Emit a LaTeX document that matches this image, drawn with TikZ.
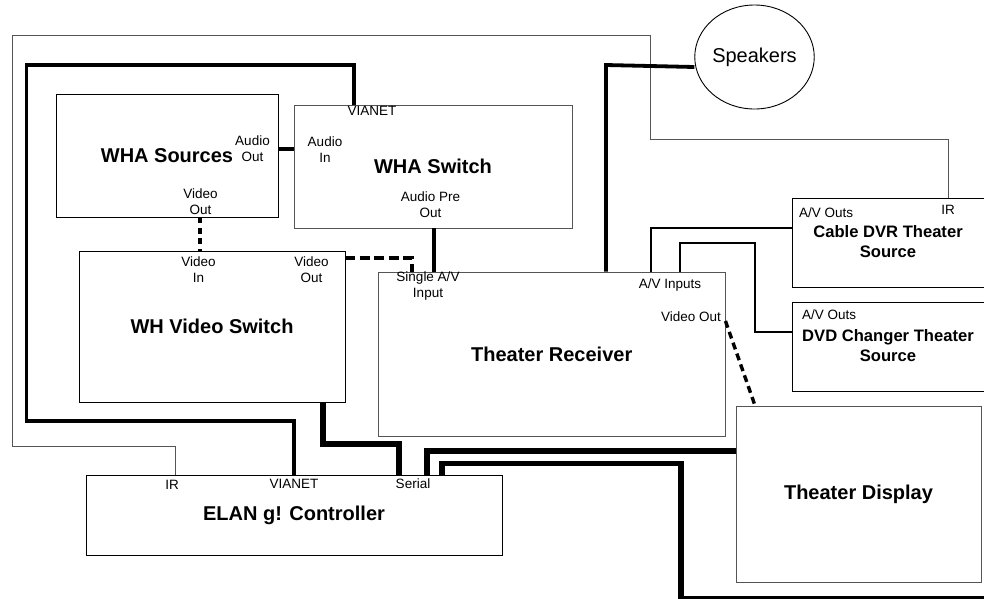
\documentclass[tikz,border=0pt]{standalone}
\usepackage{fontspec}
\setmainfont{Liberation Sans}
\setsansfont{Liberation Sans}
\usepackage{tikz}
\usetikzlibrary{shapes.geometric}
\definecolor{boxGray}{HTML}{555555}
\begin{document}
\begin{tikzpicture}[x=1pt,y=-1pt,font=\sffamily,
  unit/.style={draw=#1,line width=0.9pt,inner sep=0pt,align=center,font=\sffamily\bfseries\fontsize{20}{20}\selectfont},
  title/.style={inner sep=0pt,align=center,font=\sffamily\bfseries\fontsize{16.6}{20}\selectfont},
  port/.style={inner sep=0pt,align=center,yshift=-1pt,font=\sffamily\fontsize{13.5}{16}\selectfont},
  wire/.style={draw=black,line width=#1},
  ctrl/.style={draw=boxGray,line width=0.9pt},
  video/.style={draw=black,line width=3.4pt,dash pattern=on #1 off 4.5pt}]
  \path[use as bounding box,clip] (0,0) rectangle (984,598);
  % boxes
  \node[unit=black,minimum width=222pt,minimum height=123pt] (src) at (167,155.5) {WHA Sources};
  \node[unit=boxGray,minimum width=278pt,minimum height=123pt] (sw) at (433,166.5) {WHA Switch};
  \node[unit=black,minimum width=266pt,minimum height=151pt] (vsw) at (212,326.5) {WH Video Switch};
  \node[unit=boxGray,minimum width=346.5pt,minimum height=164pt] (rcv) at (551.75,354) {Theater Receiver};
  \node[unit=black,minimum width=416pt,minimum height=80pt] (elan) at (294,515) {ELAN g! Controller};
  \node[unit=boxGray,minimum width=245pt,minimum height=176pt] (disp) at (858.5,494) {Theater Display};
  \node[draw=black,ellipse,line width=0.9pt,minimum width=119pt,minimum height=104pt,inner sep=0pt,font=\sffamily\fontsize{20}{20}\selectfont] (spk) at (754.5,57) {Speakers};
  \node[draw=black,line width=0.9pt,minimum width=212pt,minimum height=89pt] (dvr) at (898,242.5) {};
  \node[draw=black,line width=0.9pt,minimum width=212pt,minimum height=89pt] (dvd) at (898,346.5) {};
  \node[title] (dvrT) at (888,241.5) {Cable DVR Theater\\Source};
  \node[title] (dvdT) at (888,345.5) {DVD Changer Theater\\Source};
  % port labels
  \node[port] (p1) at (372,110) {VIANET};
  \node[port] (p2) at (252.5,148) {Audio\\Out};
  \node[port] (p3) at (325,149) {Audio\\In};
  \node[port] (p4) at (200.5,201) {Video\\Out};
  \node[port] (p5) at (430.5,204) {Audio Pre\\Out};
  \node[port] (p6) at (198.5,269) {Video\\In};
  \node[port] (p7) at (311.5,269) {Video\\Out};
  \node[port] (p8) at (428,285) {Single A/V\\Input};
  \node[port] (p9) at (670,284) {A/V Inputs};
  \node[port] (p10) at (691,316) {Video Out};
  \node[port] (p11) at (826,212) {A/V Outs};
  \node[port] (p12) at (948,209) {IR};
  \node[port] (p13) at (829,314) {A/V Outs};
  \node[port] (p14) at (172,484) {IR};
  \node[port] (p15) at (294,483) {VIANET};
  \node[port] (p16) at (413,483) {Serial};
  % IR loop
  \draw[ctrl] (175,0 |- elan.north) -- (175,446) -- (12,446) -- (12,35) -- (650,35) -- (650,139) -- (948,139) -- (948,0 |- dvr.north);
  % control and audio
  \draw[wire=3.4pt] (294,0 |- elan.north) -- (294,421) -- (26.5,421) -- (26.5,65) -- (354,65) -- (354,0 |- sw.north);
  \draw[wire=3.4pt] (0,149 -| src.east) -- (0,149 -| sw.west);
  \draw[wire=3.4pt] (434,0 |- sw.south) -- (434,0 |- rcv.north);
  \draw[wire=3.8pt] (606,0 |- rcv.north) -- (606,65) -- (spk.west |- 0,67);
  \draw[wire=2pt] (650.5,0 |- rcv.north) -- (650.5,228) -- (dvr.west |- 0,228);
  \draw[wire=2pt] (680,0 |- rcv.north) -- (680,243) -- (755,243) -- (755,332) -- (dvd.west |- 0,332);
  % video
  \draw[video=6pt] (200,0 |- src.south) -- (200,0 |- vsw.north);
  \draw[video=10pt] (vsw.east |- 0,258) -- (412,258) -- (412,0 |- rcv.north);
  \draw[video=7pt] (rcv.east |- 0,321) -- (755,0 |- disp.north);
  % serial
  \draw[wire=6.4pt] (323,0 |- vsw.south) -- (323,444) -- (399,444) -- (399,0 |- elan.north);
  \draw[wire=6.2pt] (427,0 |- elan.north) -- (427,451) -- (disp.west |- 0,451);
  \draw[wire=5.8pt] (442,0 |- elan.north) -- (442,463.5) -- (681,463.5) -- (681,598.7) -- (984,598.7);
\end{tikzpicture}
\end{document}
